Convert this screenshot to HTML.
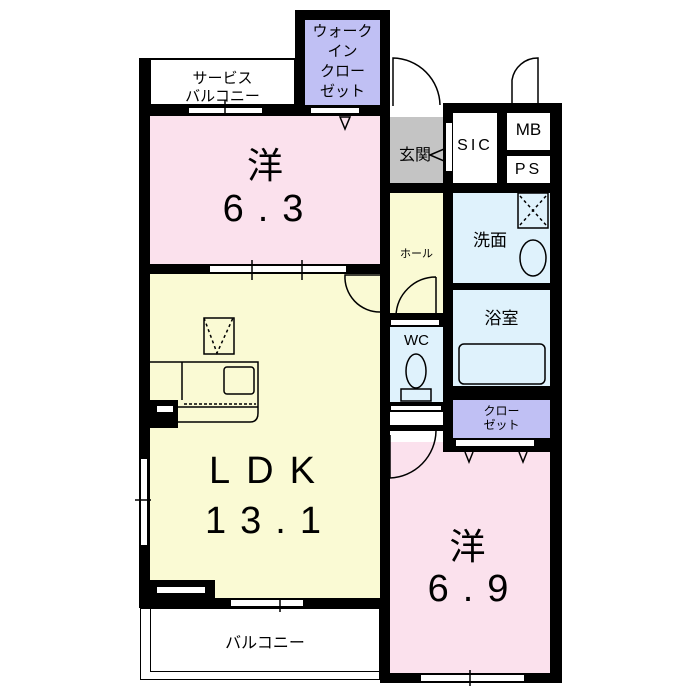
<!DOCTYPE html>
<html><head><meta charset="utf-8"><style>
body{margin:0;background:#fff;width:700px;height:700px;position:relative;overflow:hidden;font-family:"Liberation Sans","Noto Sans CJK JP",sans-serif}
div{position:absolute;box-sizing:border-box}
.b{background:#000}
.w{background:#fff;border:1px solid #000}
.t{color:#000;text-align:center;white-space:nowrap}
</style></head><body>
<div style="left:150px;top:116px;width:230px;height:149px;background:#fbe1ed"></div>
<div style="left:150px;top:274px;width:230px;height:325px;background:#fafad4"></div>
<div style="left:305px;top:20px;width:75px;height:87px;background:#c0c0f4"></div>
<div style="left:390px;top:117px;width:53px;height:66px;background:#c4c4c4"></div>
<div style="left:390px;top:193px;width:53px;height:120px;background:#fafad4"></div>
<div style="left:390px;top:327px;width:53px;height:75px;background:#dff2fc"></div>
<div style="left:453px;top:193px;width:97px;height:90px;background:#dff2fc"></div>
<div style="left:453px;top:290px;width:97px;height:97px;background:#dff2fc"></div>
<div style="left:453px;top:400px;width:97px;height:38px;background:#c0c0f4"></div>
<div style="left:390px;top:438px;width:160px;height:235px;background:#fbe1ed"></div>
<div style="left:390px;top:412px;width:53px;height:30px;background:#fff"></div>
<div class="b" style="left:139px;top:58px;width:11px;height:550px"></div>
<div class="b" style="left:139px;top:105px;width:251px;height:11px"></div>
<div class="b" style="left:295px;top:10px;width:95px;height:10px"></div>
<div class="b" style="left:295px;top:10px;width:10px;height:105px"></div>
<div class="b" style="left:380px;top:10px;width:10px;height:590px"></div>
<div class="b" style="left:139px;top:264px;width:251px;height:10px"></div>
<div class="b" style="left:139px;top:598px;width:251px;height:10px"></div>
<div class="b" style="left:443px;top:103px;width:119px;height:10px"></div>
<div class="b" style="left:443px;top:103px;width:10px;height:335px"></div>
<div class="b" style="left:550px;top:103px;width:12px;height:580px"></div>
<div class="b" style="left:497px;top:103px;width:10px;height:80px"></div>
<div class="b" style="left:507px;top:150px;width:43px;height:6px"></div>
<div class="b" style="left:390px;top:183px;width:172px;height:10px"></div>
<div class="b" style="left:453px;top:283px;width:97px;height:7px"></div>
<div class="b" style="left:453px;top:386px;width:97px;height:14px"></div>
<div class="b" style="left:443px;top:438px;width:119px;height:14px"></div>
<div class="b" style="left:380px;top:313px;width:73px;height:14px"></div>
<div class="b" style="left:380px;top:402px;width:73px;height:10px"></div>
<div class="b" style="left:380px;top:425px;width:73px;height:6px"></div>
<div class="b" style="left:380px;top:673px;width:182px;height:10px"></div>
<div class="b" style="left:380px;top:600px;width:10px;height:80px"></div>
<div class="b" style="left:150px;top:580px;width:65px;height:20px"></div>
<div class="b" style="left:150px;top:400px;width:28px;height:28px"></div>
<div class="w" style="left:188px;top:107px;width:75px;height:7px"></div>
<div class="w" style="left:310px;top:107px;width:50px;height:7px"></div>
<div class="w" style="left:209px;top:265px;width:138px;height:8px"></div>
<div class="w" style="left:230px;top:599px;width:74px;height:8px"></div>
<div class="w" style="left:420px;top:674px;width:105px;height:8px"></div>
<div class="w" style="left:140px;top:458px;width:8px;height:88px"></div>
<div class="w" style="left:156px;top:586px;width:50px;height:8px"></div>
<div class="w" style="left:156px;top:405px;width:18px;height:8px"></div>
<div class="w" style="left:390px;top:405px;width:52px;height:6px"></div>
<div class="w" style="left:455px;top:439px;width:80px;height:8px"></div>
<div class="w" style="left:445px;top:122px;width:8px;height:50px"></div>
<div class="w" style="left:390px;top:319px;width:50px;height:7px"></div>
<div style="left:150px;top:58px;width:145px;height:47px;border:1px solid #000;border-top:2px solid #000"></div>
<div style="left:140px;top:608px;width:240px;height:72px;border:1px solid #000"></div>
<div style="left:150px;top:608px;width:230px;height:64px;border:1px solid #000;border-top:none"></div>
<svg width="700" height="700" style="position:absolute;left:0;top:0" fill="none" stroke="#000" stroke-width="1.5">
<path d="M393 106 V58 A48 48 0 0 1 440 105"/>
<path d="M512 103 V80 A26 26 0 0 1 538 58 V103"/>
<path d="M380 275 H345 A35 35 0 0 0 380 312"/>
<path d="M436 277 A40 40 0 0 0 396 316 M436 277 V316"/>
<path d="M390 435 V478 A48 48 0 0 0 436 431"/>
<path d="M340 117 l5 12 l5 -12 Z"/>
<path d="M430 155 l14 -6 v12 Z"/>
<path d="M465 452 l4 10 l4 -10 M519 452 l4 10 l4 -10"/>
<rect x="204" y="318" width="30" height="36"/>
<path d="M204 318 l13 35 l16 -35" stroke-dasharray="3 3"/>
<rect x="518" y="193" width="30" height="35"/>
<path d="M520 196 l26 29 M546 196 l-26 29" stroke-dasharray="3 3"/>
<ellipse cx="533" cy="258" rx="13" ry="18"/>
<rect x="459" y="344" width="86" height="40" rx="5"/>
<ellipse cx="416" cy="371" rx="10" ry="17"/>
<rect x="401" y="389" width="30" height="12"/>
<path d="M150 362 H258 V413 Q258 422 250 422 H178 M182 362 V400 M178 407 H258" />
<rect x="224" y="367" width="30" height="27" rx="3"/>
<path d="M184 404 H256" stroke-dasharray="3 2"/>
<path d="M252 260 v20 M302 260 v20 M225 100 v16 M280 598 v14 M470 670 v16 M135 500 h16"/>
</svg>
<div class="t" style="left:302px;top:22px;width:81px;font-size:15px;line-height:20px">ウォーク<br>イン<br>クロー<br>ゼット</div>
<div class="t" style="left:150px;top:70px;width:145px;font-size:15px;line-height:18px">サービス<br>バルコニー</div>
<div class="t" style="left:200px;top:137px;width:130px;font-size:36px">洋</div>
<div class="t" style="left:195px;top:188px;width:150px;font-size:38px;letter-spacing:14px">6.3</div>
<div class="t" style="left:390px;top:141px;width:50px;font-size:16px">玄関</div>
<div class="t" style="left:453px;top:137px;width:44px;font-size:16px;letter-spacing:3px">SIC</div>
<div class="t" style="left:507px;top:120px;width:43px;font-size:17px">MB</div>
<div class="t" style="left:507px;top:161px;width:43px;font-size:16px;letter-spacing:3px">PS</div>
<div class="t" style="left:390px;top:245px;width:53px;font-size:11px">ホール</div>
<div class="t" style="left:458px;top:226px;width:64px;font-size:17px">洗面</div>
<div class="t" style="left:453px;top:304px;width:97px;font-size:17px">浴室</div>
<div class="t" style="left:390px;top:332px;width:53px;font-size:15px">WC</div>
<div class="t" style="left:453px;top:404px;width:97px;font-size:12px;line-height:14px">クロー<br>ゼット</div>
<div class="t" style="left:170px;top:450px;width:200px;font-size:38px;letter-spacing:16px">LDK</div>
<div class="t" style="left:170px;top:500px;width:200px;font-size:38px;letter-spacing:14px">13.1</div>
<div class="t" style="left:420px;top:518px;width:95px;font-size:36px">洋</div>
<div class="t" style="left:405px;top:568px;width:140px;font-size:38px;letter-spacing:14px">6.9</div>
<div class="t" style="left:150px;top:629px;width:230px;font-size:16px">バルコニー</div>
</body></html>
